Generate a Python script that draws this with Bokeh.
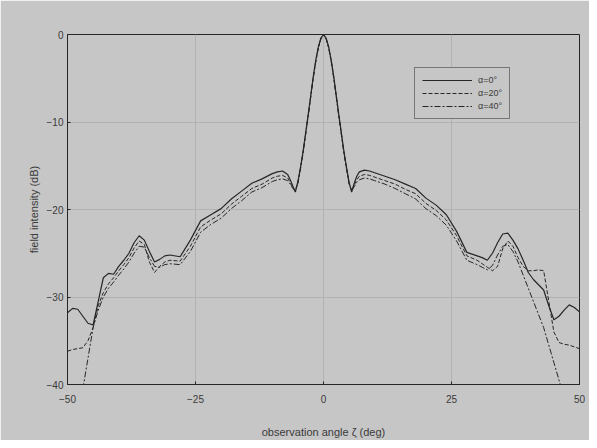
from bokeh.plotting import figure
from bokeh.models import Legend, LegendItem, Range1d, FixedTicker
from bokeh.embed import file_html
from bokeh.resources import INLINE

angle_deg = [-50, -49, -48, -47, -46, -45, -44, -43, -42, -41, -40, -39, -38, -37, -36, -35,
             -34, -33, -32, -31, -30, -28, -26, -24, -22, -20, -18, -16, -14, -12, -10, -9,
             -8, -7, -6.5, -6, -5.5, -5, -4.5, -4, -3.5, -3, -2.5, -2, -1.5, -1, -0.5, 0,
             0.5, 1, 1.5, 2, 2.5, 3, 3.5, 4, 4.5, 5, 5.5, 6, 6.5, 7, 8, 9,
             10, 12, 14, 16, 18, 20, 22, 24, 26, 28, 30, 31, 32, 33, 34, 35,
             36, 37, 38, 39, 40, 41, 42, 43, 44, 45, 46, 47, 48, 49, 50]

alpha0_db = [-31.8, -31.3, -31.4, -32.2, -33.0, -33.2, -30.5, -27.8, -27.3, -27.4, -26.5, -25.8, -25.0, -23.8, -23.0, -23.5,
             -24.8, -26.0, -25.7, -25.3, -25.2, -25.4, -23.5, -21.3, -20.6, -19.9, -18.8, -17.9, -17.0, -16.5, -15.9, -15.7,
             -15.6, -16.0, -16.6, -17.3, -18.0, -16.8, -15.2, -13.4, -11.3, -9.2, -7.0, -4.8, -2.9, -1.4, -0.4, 0.0,
             -0.4, -1.4, -2.9, -4.8, -7.0, -9.2, -11.3, -13.4, -15.2, -16.9, -18.0, -17.0, -16.2, -15.7, -15.5, -15.6,
             -15.8, -16.2, -16.6, -17.1, -17.6, -18.7, -19.5, -20.6, -22.5, -24.9, -25.3, -25.5, -25.8, -25.0, -23.8, -22.8,
             -22.7, -23.5, -24.5, -25.8, -27.2, -28.0, -28.6, -29.2, -31.0, -32.6, -32.2, -31.5, -30.9, -31.2, -31.7]

alpha20_db = [-36.2, -36.0, -35.9, -35.8, -35.0, -33.5, -31.0, -29.5, -28.5, -27.8, -27.0, -26.3, -25.5, -24.4, -23.6, -24.0,
              -26.0, -27.2, -26.5, -26.0, -25.8, -25.9, -24.2, -22.0, -21.2, -20.5, -19.4, -18.5, -17.6, -17.1, -16.4, -16.2,
              -16.1, -16.4, -16.9, -17.5, -17.9, -16.9, -15.3, -13.5, -11.4, -9.3, -7.1, -4.9, -3.0, -1.5, -0.4, 0.0,
              -0.4, -1.5, -3.0, -4.9, -7.1, -9.3, -11.4, -13.5, -15.3, -17.0, -17.9, -17.2, -16.6, -16.2, -16.0, -16.1,
              -16.3, -16.7, -17.1, -17.7, -18.2, -19.3, -20.1, -21.2, -23.0, -25.3, -25.8, -26.2, -26.6, -27.0, -26.5, -24.5,
              -23.6, -24.2, -25.5, -26.5, -27.0, -27.0, -26.9, -27.0, -30.5, -34.0, -35.2, -35.4, -35.5, -35.7, -35.9]

alpha40_db = [-42.0, -42.0, -42.0, -40.5, -37.0, -33.5, -31.5, -30.0, -29.0, -28.3, -27.5, -26.8, -26.0, -25.0, -24.2, -24.3,
              -25.5, -26.5, -26.6, -26.3, -26.2, -26.3, -24.8, -22.6, -21.7, -21.0, -19.9, -19.0, -18.0, -17.5, -16.8, -16.6,
              -16.5, -16.7, -17.1, -17.6, -17.8, -17.0, -15.4, -13.6, -11.5, -9.4, -7.2, -5.0, -3.1, -1.5, -0.5, 0.0,
              -0.5, -1.5, -3.1, -5.0, -7.2, -9.4, -11.5, -13.6, -15.4, -17.1, -17.8, -17.4, -16.9, -16.6, -16.4, -16.5,
              -16.7, -17.1, -17.6, -18.2, -18.8, -19.9, -20.7, -21.8, -23.6, -25.8, -26.3, -26.6, -26.9, -26.4, -25.2, -24.2,
              -24.0, -24.8, -26.0, -27.5, -29.0, -30.5, -32.0, -33.5, -35.5, -37.5, -39.5, -41.5, -42.0, -42.0, -42.0]

x_ticks = [-50, -25, 0, 25, 50]
y_ticks = [-40, -30, -20, -10, 0]
series_labels = ["\u03b1=0\u00b0", "\u03b1=20\u00b0", "\u03b1=40\u00b0"]

BG = "#c6c6c6"
INK = "#262626"
FONT = "Liberation Sans"

p = figure(width=589, height=440, output_backend="svg", toolbar_location=None,
           x_range=Range1d(-50, 50), y_range=Range1d(-40, 0),
           min_border_left=67, min_border_right=10, min_border_top=34, min_border_bottom=55)
p.background_fill_color = BG
p.border_fill_color = BG
p.outline_line_color = INK
p.outline_line_width = 1

r0 = p.line(angle_deg, alpha0_db, line_color=INK, line_width=1.2)
r1 = p.line(angle_deg, alpha20_db, line_color=INK, line_width=1.0, line_dash="4 2")
r2 = p.line(angle_deg, alpha40_db, line_color=INK, line_width=1.0, line_dash="6 2 2 2")

for ax in (p.xaxis[0], p.yaxis[0]):
    ax.axis_line_color = INK
    ax.major_tick_line_color = INK
    ax.major_tick_in = 3
    ax.major_tick_out = 0
    ax.minor_tick_line_color = None
    ax.major_label_text_font = FONT
    ax.major_label_text_font_size = "10px"
    ax.major_label_text_color = "#3a3a3a"
    ax.axis_label_text_font = FONT
    ax.axis_label_text_font_size = "11px"
    ax.axis_label_text_font_style = "normal"
    ax.axis_label_text_color = "#3a3a3a"

p.xaxis.ticker = FixedTicker(ticks=x_ticks)
p.yaxis.ticker = FixedTicker(ticks=y_ticks)
p.xaxis.axis_label = "observation angle \u03b6 (deg)"
p.yaxis.axis_label = "field intensity (dB)"
p.xaxis.major_label_standoff = 10
p.xaxis.axis_label_standoff = 20
p.yaxis.major_label_standoff = 4
p.yaxis.axis_label_standoff = 4

p.xgrid.grid_line_color = "#b2b2b2"
p.ygrid.grid_line_color = "#b2b2b2"
p.xgrid.grid_line_width = 1
p.ygrid.grid_line_width = 1

legend = Legend(items=[LegendItem(label=series_labels[0], renderers=[r0]),
                       LegendItem(label=series_labels[1], renderers=[r1]),
                       LegendItem(label=series_labels[2], renderers=[r2])],
                location=(347, 265))
legend.background_fill_color = BG
legend.background_fill_alpha = 1
legend.border_line_color = INK
legend.border_line_width = 1
legend.label_text_font = FONT
legend.label_text_font_size = "9px"
legend.label_text_color = "#3a3a3a"
legend.glyph_width = 50
legend.glyph_height = 10
legend.label_height = 10
legend.spacing = 3
legend.padding = 7
legend.margin = 0
legend.label_standoff = 6
p.add_layout(legend)

open("out.html", "w").write(file_html(p, INLINE))
